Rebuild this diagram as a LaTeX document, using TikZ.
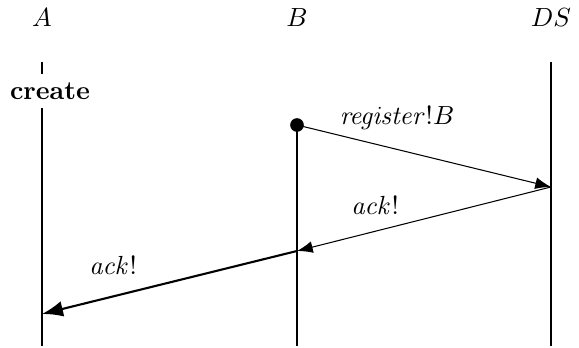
\documentclass[tikz,border=0pt]{standalone}
\usepackage{amsmath, amssymb}
\usetikzlibrary{positioning, arrows.meta}

\begin{document}
\begin{tikzpicture}[x=0.01339cm, y=-0.01339cm]
    \useasboundingbox (0,0) rectangle (579,348);
    \tikzset{
        lifeline/.style={thin},
        msg/.style={-{Latex[length=6pt, width=4.5pt]}},
        bigmsg/.style={thick, -{Latex[length=8pt, width=6pt]}}
    }

    % Process heads
    \node (A) at (42,18) {$A$};
    \node (B) at (297,18) {$B$};
    \node (DS) at (551,18) {$DS$};

    % Lifelines
    \coordinate (Atop) at (42,62);   \coordinate (Abot) at (42,346);
    \coordinate (Btop) at (297,125); \coordinate (Bbot) at (297,346);
    \coordinate (DStop) at (551,62); \coordinate (DSbot) at (551,346);
    \draw[lifeline] (Atop) -- (Abot);
    \draw[lifeline] (Btop) -- (Bbot);
    \draw[lifeline] (DStop) -- (DSbot);

    \node[fill=white, font=\bfseries] (create) at (50,91) {create};

    % Message points
    \coordinate (Breg) at (297,125);
    \coordinate (DSreg) at (551,187);
    \coordinate (Back) at (297,251);
    \coordinate (Aack) at (42,314);

    \fill (Breg) circle (2.6pt);

    % Messages
    \draw[msg] (Breg) -- (DSreg);
    \node (reglbl) at (397,118) {$\mathit{register}!B$};
    \draw[msg] (DSreg) -- (Back);
    \node (acklbl) at (375,205) {$\mathit{ack}!$};
    \draw[bigmsg] (Back) -- (Aack);
    \node (acklblA) at (113,265) {$\mathit{ack}!$};
\end{tikzpicture}
\end{document}
